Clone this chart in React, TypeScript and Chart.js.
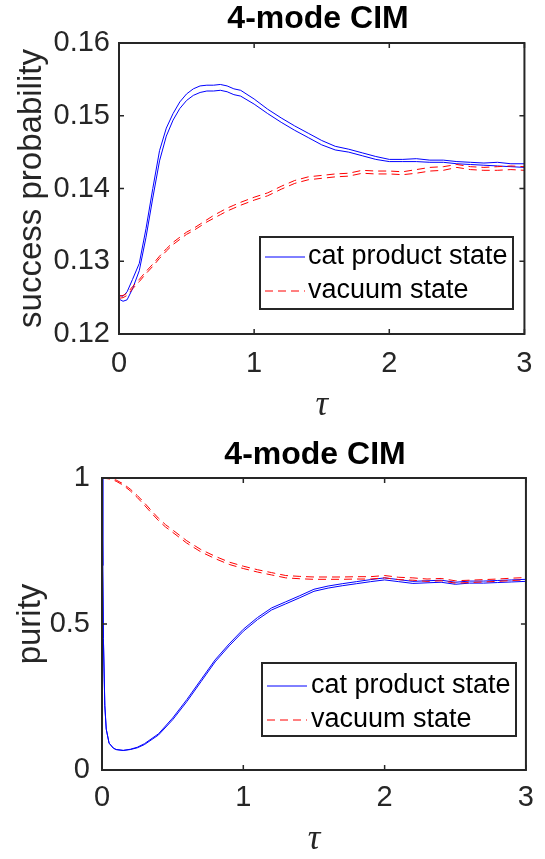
import React, { useEffect, useRef } from 'react';
import { Chart, registerables } from 'chart.js';

Chart.register(...registerables);

const SANS = '"Liberation Sans", Arial, Helvetica, sans-serif';
const SERIF = '"Liberation Serif", "Times New Roman", serif';
const AXIS_COLOR = '#262626';
const BLUE = '#0000ff';
const RED = '#ff0000';

// ---------- shared labels ----------
const chartTitle = '4-mode CIM';
const xAxisLabel = 'τ';
const legendLabels = ['cat product state', 'vacuum state'];
const xTicks = [0, 1, 2, 3];

// ---------- top panel: success probability ----------
const successYLabel = 'success probability';
const successYTicks = [0.12, 0.13, 0.14, 0.15, 0.16];
const successTau = [0, 0.03, 0.06, 0.1, 0.15, 0.2, 0.25, 0.3, 0.35, 0.4, 0.45, 0.5, 0.55, 0.6, 0.65, 0.7, 0.75, 0.8, 0.85, 0.9, 1.0, 1.1, 1.2, 1.3, 1.4, 1.5, 1.6, 1.7, 1.8, 1.9, 2.0, 2.1, 2.2, 2.3, 2.4, 2.5, 2.6, 2.7, 2.8, 2.9, 3.0];
const successCatUpper = [0.1253, 0.1252, 0.1258, 0.1275, 0.1297, 0.1345, 0.14, 0.1452, 0.1483, 0.1503, 0.1519, 0.153, 0.1537, 0.1541, 0.1542, 0.1542, 0.1543, 0.1541, 0.1537, 0.1535, 0.1523, 0.1509, 0.1497, 0.1486, 0.1476, 0.1466, 0.1458, 0.1454, 0.1449, 0.1444, 0.144, 0.144, 0.1441, 0.1439, 0.1439, 0.1437, 0.1436, 0.1435, 0.1436, 0.1434, 0.1434];
const successCatLower = [0.1248, 0.1245, 0.1247, 0.1262, 0.1287, 0.1333, 0.1387, 0.1438, 0.1472, 0.1494, 0.151, 0.1521, 0.1528, 0.1532, 0.1534, 0.1534, 0.1535, 0.1533, 0.1529, 0.1527, 0.1516, 0.1503, 0.1491, 0.148, 0.147, 0.146, 0.1453, 0.145, 0.1445, 0.144, 0.1437, 0.1437, 0.1437, 0.1436, 0.1436, 0.1434, 0.1433, 0.1432, 0.1431, 0.143, 0.1429];
const successVacUpper = [0.1252, 0.1253, 0.1256, 0.1265, 0.1275, 0.1286, 0.1296, 0.1307, 0.1317, 0.1326, 0.1333, 0.134, 0.1345, 0.1351, 0.1357, 0.1363, 0.1368, 0.1373, 0.1377, 0.1381, 0.1388, 0.1394, 0.1403, 0.1411, 0.1416, 0.1418, 0.142, 0.1421, 0.1425, 0.1424, 0.1424, 0.1423, 0.1426, 0.1429, 0.143, 0.1433, 0.143, 0.1429, 0.143, 0.1431, 0.143];
const successVacLower = [0.1249, 0.125, 0.1253, 0.1262, 0.1272, 0.1283, 0.1293, 0.1304, 0.1314, 0.1323, 0.133, 0.1337, 0.1342, 0.1348, 0.1354, 0.1359, 0.1364, 0.1369, 0.1373, 0.1377, 0.1384, 0.139, 0.1399, 0.1407, 0.1412, 0.1414, 0.1416, 0.1417, 0.1421, 0.142, 0.142, 0.1419, 0.1421, 0.1424, 0.1425, 0.1429, 0.1426, 0.1425, 0.1425, 0.1426, 0.1425];

// ---------- bottom panel: purity ----------
const purityYLabel = 'purity';
const purityYTicks = [0, 0.5, 1];
const purityTauCat = [0, 0.005, 0.01, 0.02, 0.03, 0.05, 0.08, 0.1, 0.15, 0.2, 0.25, 0.3, 0.4, 0.5, 0.6, 0.7, 0.8, 0.9, 1.0, 1.1, 1.2, 1.3, 1.4, 1.5, 1.6, 1.7, 1.8, 1.9, 2.0, 2.1, 2.2, 2.3, 2.4, 2.5, 2.6, 2.7, 2.8, 2.9, 3.0];
const purityCatUpper = [1.0, 0.7, 0.45, 0.22, 0.14, 0.092, 0.075, 0.07, 0.067, 0.071, 0.078, 0.09, 0.124, 0.178, 0.241, 0.309, 0.377, 0.432, 0.482, 0.522, 0.555, 0.576, 0.597, 0.619, 0.63, 0.638, 0.645, 0.652, 0.658, 0.652, 0.646, 0.648, 0.65, 0.643, 0.647, 0.647, 0.649, 0.651, 0.653];
const purityCatLower = [1.0, 0.7, 0.45, 0.22, 0.14, 0.092, 0.075, 0.07, 0.067, 0.07, 0.076, 0.087, 0.12, 0.172, 0.234, 0.302, 0.37, 0.425, 0.475, 0.515, 0.548, 0.569, 0.59, 0.612, 0.623, 0.631, 0.638, 0.645, 0.651, 0.645, 0.639, 0.641, 0.643, 0.636, 0.64, 0.64, 0.642, 0.644, 0.646];
const purityTauVac = [0, 0.05, 0.1, 0.15, 0.2, 0.25, 0.3, 0.35, 0.4, 0.45, 0.5, 0.6, 0.7, 0.8, 0.9, 1.0, 1.1, 1.2, 1.3, 1.4, 1.5, 1.6, 1.7, 1.8, 1.9, 2.0, 2.1, 2.2, 2.3, 2.4, 2.5, 2.6, 2.7, 2.8, 2.9, 3.0];
const purityVacUpper = [1.0, 0.999, 0.993, 0.98, 0.962, 0.94, 0.915, 0.888, 0.862, 0.84, 0.822, 0.785, 0.755, 0.732, 0.712, 0.698, 0.686, 0.676, 0.666, 0.663, 0.661, 0.661, 0.661, 0.662, 0.662, 0.666, 0.66, 0.658, 0.654, 0.656, 0.648, 0.65, 0.652, 0.654, 0.657, 0.659];
const purityVacLower = [1.0, 0.997, 0.989, 0.975, 0.956, 0.933, 0.907, 0.88, 0.854, 0.832, 0.814, 0.777, 0.747, 0.724, 0.704, 0.69, 0.678, 0.668, 0.658, 0.655, 0.653, 0.653, 0.653, 0.654, 0.654, 0.658, 0.652, 0.65, 0.646, 0.648, 0.64, 0.642, 0.644, 0.646, 0.649, 0.651];

const DASH = [8, 5];

function pts(xs: number[], ys: number[]) {
  return xs.map((x, i) => ({ x, y: ys[i] }));
}

function lineDs(label: string, xs: number[], ys: number[], color: string, dashed: boolean) {
  return {
    label,
    data: pts(xs, ys),
    borderColor: color,
    backgroundColor: color,
    borderWidth: 1,
    borderDash: dashed ? DASH : [],
    pointRadius: 0,
    tension: 0,
    fill: false,
  };
}

type Panel = {
  width: number;
  height: number;
  area: { left: number; top: number; right: number; bottom: number };
  yMin: number;
  yMax: number;
  yTicks: number[];
  yFormat: (v: number) => string;
  yLabel: string;
  yLabelCenter: number;
  yTickPad: number;
  xTickPad: number;
  xLabelOffset: number;
  titleX: number;
  titleBaseline: number;
  legend: { left: number; top: number; right: number; bottom: number; sx0: number; sx1: number; tx: number; rows: number[] };
  datasets: any[];
};

function framePlugin(p: Panel) {
  return {
    id: 'matlabFrame',
    afterDatasetsDraw(chart: any) {
      const { ctx, chartArea: a, scales } = chart;
      const xs = scales.x;
      const ys = scales.y;
      ctx.save();
      ctx.strokeStyle = AXIS_COLOR;
      ctx.lineWidth = 1.5;
      ctx.setLineDash([]);
      const tl = 5;
      ctx.beginPath();
      xs.ticks.forEach((t: any) => {
        const px = xs.getPixelForValue(t.value);
        ctx.moveTo(px, a.bottom);
        ctx.lineTo(px, a.bottom - tl);
        ctx.moveTo(px, a.top);
        ctx.lineTo(px, a.top + tl);
      });
      ys.ticks.forEach((t: any) => {
        const py = ys.getPixelForValue(t.value);
        ctx.moveTo(a.left, py);
        ctx.lineTo(a.left + tl, py);
        ctx.moveTo(a.right, py);
        ctx.lineTo(a.right - tl, py);
      });
      ctx.stroke();
      ctx.lineWidth = 2;
      ctx.strokeRect(a.left, a.top, a.right - a.left, a.bottom - a.top);

      ctx.fillStyle = '#000';
      ctx.font = `bold 32px ${SANS}`;
      ctx.textAlign = 'center';
      ctx.textBaseline = 'alphabetic';
      ctx.fillText(chartTitle, p.titleX, p.titleBaseline);

      const L = p.legend;
      ctx.fillStyle = '#fff';
      ctx.fillRect(L.left, L.top, L.right - L.left, L.bottom - L.top);
      ctx.strokeStyle = AXIS_COLOR;
      ctx.lineWidth = 2;
      ctx.strokeRect(L.left, L.top, L.right - L.left, L.bottom - L.top);
      const entries = chart.data.datasets.filter((d: any) => legendLabels.includes(d.label) && d.showInLegend);
      const ordered = legendLabels.map((lab) => entries.find((d: any) => d.label === lab));
      ordered.forEach((d: any, i: number) => {
        if (!d) return;
        const y = L.rows[i];
        ctx.strokeStyle = d.borderColor;
        ctx.lineWidth = 1;
        ctx.setLineDash(d.borderDash || []);
        ctx.beginPath();
        ctx.moveTo(L.sx0, y);
        ctx.lineTo(L.sx1, y);
        ctx.stroke();
        ctx.setLineDash([]);
        ctx.fillStyle = '#000';
        ctx.font = `27px ${SANS}`;
        ctx.textAlign = 'left';
        ctx.textBaseline = 'middle';
        ctx.fillText(d.label, L.tx, y);
      });
      ctx.restore();
    },
  };
}

function buildConfig(p: Panel) {
  return {
    type: 'line',
    data: { datasets: p.datasets },
    options: {
      animation: false,
      responsive: false,
      maintainAspectRatio: false,
      layout: {
        padding: { left: 0, top: p.area.top, right: p.width - p.area.right, bottom: 0 },
      },
      plugins: { legend: { display: false }, title: { display: false }, tooltip: { enabled: false } },
      scales: {
        x: {
          type: 'linear',
          min: 0,
          max: 3,
          afterBuildTicks: (s: any) => {
            s.ticks = xTicks.map((v) => ({ value: v }));
          },
          ticks: {
            color: AXIS_COLOR,
            font: { family: SANS, size: 29 },
            padding: p.xTickPad,
            maxRotation: 0,
            autoSkip: false,
            callback: (v: any) => String(v),
          },
          grid: { display: false, drawTicks: false },
          border: { display: false },
          title: {
            display: true,
            text: xAxisLabel,
            color: AXIS_COLOR,
            font: { family: SERIF, style: 'italic', size: 35, lineHeight: 1 },
            padding: { top: 0, bottom: p.xLabelOffset },
          },
          afterFit: (s: any) => {
            s.height = p.height - p.area.bottom;
          },
        },
        y: {
          type: 'linear',
          min: p.yMin,
          max: p.yMax,
          afterBuildTicks: (s: any) => {
            s.ticks = p.yTicks.map((v) => ({ value: v }));
          },
          ticks: {
            color: AXIS_COLOR,
            font: { family: SANS, size: 29 },
            padding: p.yTickPad,
            autoSkip: false,
            callback: (v: any) => p.yFormat(Number(v)),
          },
          grid: { display: false, drawTicks: false },
          border: { display: false },
          title: {
            display: true,
            text: p.yLabel,
            color: AXIS_COLOR,
            font: { family: SANS, size: 33, lineHeight: 1 },
            padding: { top: p.yLabelCenter - 16.5, bottom: 0 },
          },
          afterFit: (s: any) => {
            s.width = p.area.left;
          },
        },
      },
    },
    plugins: [framePlugin(p)],
  };
}

const topPanel: Panel = {
  width: 545,
  height: 430,
  area: { left: 119, top: 43, right: 528, bottom: 334 },
  yMin: 0.12,
  yMax: 0.16,
  yTicks: successYTicks,
  yFormat: (v) => v.toFixed(2),
  yLabel: successYLabel,
  yLabelCenter: 32,
  yTickPad: 9,
  xTickPad: 12.5,
  xLabelOffset: 7,
  titleX: 318,
  titleBaseline: 28,
  legend: { left: 260, top: 237, right: 513, bottom: 309, sx0: 265, sx1: 305, tx: 308, rows: [257, 291] },
  datasets: [
    { ...lineDs(legendLabels[1], successTau, successVacUpper, RED, true), showInLegend: true },
    { ...lineDs(legendLabels[1], successTau, successVacLower, RED, true), showInLegend: false },
    { ...lineDs(legendLabels[0], successTau, successCatUpper, BLUE, false), showInLegend: true },
    { ...lineDs(legendLabels[0], successTau, successCatLower, BLUE, false), showInLegend: false },
  ],
};

const bottomPanel: Panel = {
  width: 545,
  height: 429,
  area: { left: 102, top: 48, right: 528, bottom: 340 },
  yMin: 0,
  yMax: 1,
  yTicks: purityYTicks,
  yFormat: (v) => String(v),
  yLabel: purityYLabel,
  yLabelCenter: 31,
  yTickPad: 12,
  xTickPad: 11,
  xLabelOffset: 1.5,
  titleX: 315,
  titleBaseline: 34,
  legend: { left: 262, top: 233, right: 516, bottom: 306, sx0: 267, sx1: 307, tx: 311, rows: [256, 290] },
  datasets: [
    { ...lineDs(legendLabels[1], purityTauVac, purityVacUpper, RED, true), showInLegend: true },
    { ...lineDs(legendLabels[1], purityTauVac, purityVacLower, RED, true), showInLegend: false },
    { ...lineDs(legendLabels[0], purityTauCat, purityCatUpper, BLUE, false), showInLegend: true },
    { ...lineDs(legendLabels[0], purityTauCat, purityCatLower, BLUE, false), showInLegend: false },
  ],
};

function PanelChart({ panel, top }: { panel: Panel; top: number }) {
  const ref = useRef<HTMLCanvasElement | null>(null);
  useEffect(() => {
    if (!ref.current) return;
    const chart = new Chart(ref.current, buildConfig(panel) as any);
    return () => chart.destroy();
  }, [panel]);
  return (
    <div style={{ position: 'absolute', left: 0, top, width: panel.width, height: panel.height }}>
      <canvas ref={ref} width={panel.width} height={panel.height} style={{ width: panel.width, height: panel.height, display: 'block' }} />
    </div>
  );
}

export default function App() {
  return (
    <div style={{ position: 'absolute', left: 0, top: 0, width: 545, height: 859, background: '#fff' }}>
      <PanelChart panel={topPanel} top={0} />
      <PanelChart panel={bottomPanel} top={430} />
    </div>
  );
}
